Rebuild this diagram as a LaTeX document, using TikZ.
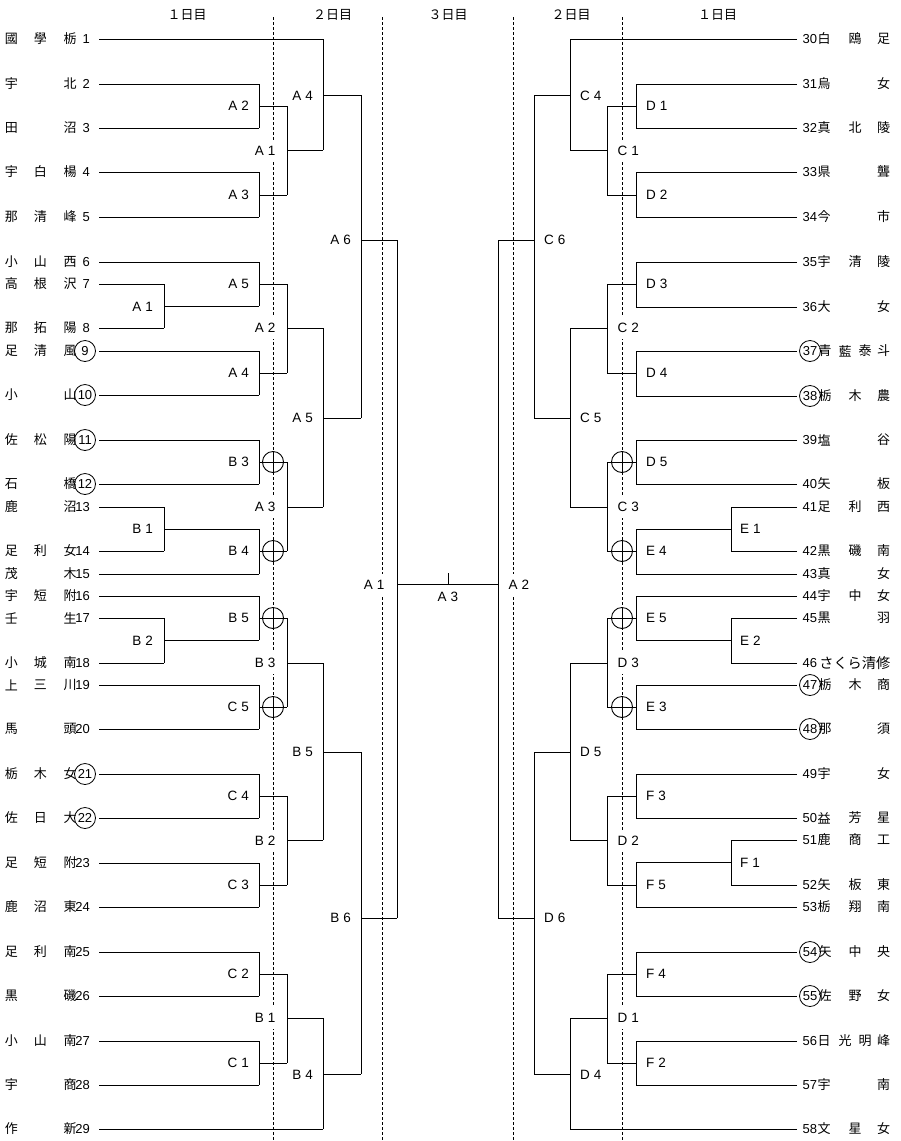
\documentclass[tikz,border=0pt]{standalone}
\usepackage{fontspec}
\setmainfont{Noto Sans CJK JP}
\newfontfamily\latf{Liberation Sans}
\tikzset{
  jp/.style={font=\fontsize{13}{13}\selectfont, inner sep=0pt},
  hdr/.style={font=\fontsize{13}{13}\selectfont, inner sep=0pt},
  num/.style={font=\latf\fontsize{13}{13}\selectfont, inner sep=0pt},
  lbl/.style={font=\latf\fontsize{13.5}{13.5}\selectfont, inner sep=0pt},
  lblw/.style={lbl, fill=white, inner xsep=1.5pt, inner ysep=6pt},
  ln/.style={line width=0.9pt},
  dsh/.style={line width=0.8pt, dash pattern=on 3pt off 2pt},
  cnum/.style={num, circle, draw, line width=0.8pt, minimum size=21pt, inner sep=0pt},
  xc/.style={circle, draw, line width=0.9pt, minimum size=21pt, inner sep=0pt},
}
% left team: id, y, c1, c2, c3, number, line end x
\newcommand\Lteam[7]{%
  \node[jp] (L#1a) at (11.5,#2) {#3};
  \node[jp] (L#1b) at (40.5,#2) {#4};
  \node[jp] (L#1c) at (70,#2) {#5};
  \node[num,anchor=east] (L#1n) at (90,#2) {#6};
  \coordinate (t#1) at (99,#2);
  \coordinate (e#1) at (#7,#2);
  \draw[ln] (t#1) -- (e#1);}
\newcommand\LteamC[7]{%
  \node[jp] (L#1a) at (11.5,#2) {#3};
  \node[jp] (L#1b) at (40.5,#2) {#4};
  \node[jp] (L#1c) at (70,#2) {#5};
  \node[cnum] (L#1n) at (85,#2) {#6};
  \coordinate (t#1) at (99,#2);
  \coordinate (e#1) at (#7,#2);
  \draw[ln] (t#1) -- (e#1);}
% right team: id, y, c1, c2, c3, number, line end x
\newcommand\Rteam[7]{%
  \node[num,anchor=west] (R#1n) at (802.5,#2) {#6};
  \node[jp] (R#1a) at (824,#2) {#3};
  \node[jp] (R#1b) at (855,#2) {#4};
  \node[jp] (R#1c) at (883.5,#2) {#5};
  \coordinate (t#1) at (797,#2);
  \coordinate (e#1) at (#7,#2);
  \draw[ln] (t#1) -- (e#1);}
\newcommand\RteamC[7]{%
  \node[cnum] (R#1n) at (810,#2) {#6};
  \node[jp] (R#1a) at (825,#2) {#3};
  \node[jp] (R#1b) at (855,#2) {#4};
  \node[jp] (R#1c) at (883.5,#2) {#5};
  \coordinate (t#1) at (797,#2);
  \coordinate (e#1) at (#7,#2);
  \draw[ln] (t#1) -- (e#1);}
% bracket: x, y1, y2, ym, xout
\newcommand\brk[5]{%
  \draw[ln] (#1,#2) -- (#1,#3);
  \draw[ln] (#1,#4) -- (#5,#4);}
% labels
\newcommand\lt[2]{#1\hspace{4pt}#2}
\newcommand\labL[4]{\node[lbl,anchor=east] at (#1,#2) {\lt{#3}{#4}};}
\newcommand\labLw[4]{\node[lblw,anchor=east] at (#1,#2) {\lt{#3}{#4}};}
\newcommand\labR[4]{\node[lbl,anchor=west] at (#1,#2) {\lt{#3}{#4}};}
\newcommand\labRw[4]{\node[lblw,anchor=west] at (#1,#2) {\lt{#3}{#4}};}
\begin{document}
\begin{tikzpicture}[x=1pt,y=-1pt]
\useasboundingbox (0,0) rectangle (900,1141);
\fill[white] (0,0) rectangle (900,1141);

% headers
\node[hdr] (h1) at (187,15) {１日目};
\node[hdr] (h2) at (332.5,15) {２日目};
\node[hdr] (h3) at (448,15) {３日目};
\node[hdr] (h4) at (571,15) {２日目};
\node[hdr] (h5) at (717.5,15) {１日目};

% dashed day separators
\draw[dsh] (273,17) -- (273,1141);
\draw[dsh] (382,17) -- (382,1141);
\draw[dsh] (513,17) -- (513,1141);
\draw[dsh] (622,17) -- (622,1141);

% ---------------- left teams
\Lteam{1}{39}{國}{學}{栃}{1}{323}
\Lteam{2}{84}{宇}{}{北}{2}{259}
\Lteam{3}{128}{田}{}{沼}{3}{259}
\Lteam{4}{172}{宇}{白}{楊}{4}{259}
\Lteam{5}{217}{那}{清}{峰}{5}{259}
\Lteam{6}{262}{小}{山}{西}{6}{259}
\Lteam{7}{284}{高}{根}{沢}{7}{164}
\Lteam{8}{328}{那}{拓}{陽}{8}{164}
\LteamC{9}{351}{足}{清}{風}{9}{259}
\LteamC{10}{395}{小}{}{山}{10}{259}
\LteamC{11}{440}{佐}{松}{陽}{11}{259}
\LteamC{12}{484}{石}{}{橋}{12}{259}
\Lteam{13}{507}{鹿}{}{沼}{13}{164}
\Lteam{14}{551}{足}{利}{女}{14}{164}
\Lteam{15}{574}{茂}{}{木}{15}{259}
\Lteam{16}{596}{宇}{短}{附}{16}{259}
\Lteam{17}{618}{壬}{}{生}{17}{164}
\Lteam{18}{663}{小}{城}{南}{18}{164}
\Lteam{19}{685}{上}{三}{川}{19}{259}
\Lteam{20}{729}{馬}{}{頭}{20}{259}
\LteamC{21}{774}{栃}{木}{女}{21}{259}
\LteamC{22}{818}{佐}{日}{大}{22}{259}
\Lteam{23}{863}{足}{短}{附}{23}{259}
\Lteam{24}{907}{鹿}{沼}{東}{24}{259}
\Lteam{25}{952}{足}{利}{南}{25}{259}
\Lteam{26}{996}{黒}{}{磯}{26}{259}
\Lteam{27}{1041}{小}{山}{南}{27}{259}
\Lteam{28}{1085}{宇}{}{商}{28}{259}
\Lteam{29}{1129}{作}{}{新}{29}{323}

% ---------------- right teams
\Rteam{30}{39}{白}{鴎}{足}{30}{570}
\Rteam{31}{84}{烏}{}{女}{31}{636}
\Rteam{32}{128}{真}{北}{陵}{32}{636}
\Rteam{33}{172}{県}{}{聾}{33}{636}
\Rteam{34}{217}{今}{}{市}{34}{636}
\Rteam{35}{262}{宇}{清}{陵}{35}{636}
\Rteam{36}{307}{大}{}{女}{36}{636}
\node[cnum] (R37n) at (810,351) {37};
\node[jp] (R37a) at (825,351) {青};
\node[jp] (R37b) at (845,351) {藍};
\node[jp] (R37c) at (865,351) {泰};
\node[jp] (R37d) at (883.5,351) {斗};
\coordinate (t37) at (797,351); \coordinate (e37) at (636,351);
\draw[ln] (t37) -- (e37);
\RteamC{38}{396}{栃}{木}{農}{38}{636}
\Rteam{39}{440}{塩}{}{谷}{39}{636}
\Rteam{40}{484}{矢}{}{板}{40}{636}
\Rteam{41}{507}{足}{利}{西}{41}{731}
\Rteam{42}{551}{黒}{磯}{南}{42}{731}
\Rteam{43}{574}{真}{}{女}{43}{636}
\Rteam{44}{596}{宇}{中}{女}{44}{636}
\Rteam{45}{618}{黒}{}{羽}{45}{731}
\node[num,anchor=west] (R46n) at (802.5,663) {46};
\node[jp,anchor=east,font=\fontsize{14.2}{14.2}\selectfont] (R46a) at (890.5,663) {さくら清修};
\coordinate (t46) at (797,663); \coordinate (e46) at (731,663);
\draw[ln] (t46) -- (e46);
\RteamC{47}{685}{栃}{木}{商}{47}{636}
\RteamC{48}{729}{那}{}{須}{48}{636}
\Rteam{49}{774}{宇}{}{女}{49}{636}
\Rteam{50}{818}{益}{芳}{星}{50}{636}
\Rteam{51}{840}{鹿}{商}{工}{51}{731}
\Rteam{52}{885}{矢}{板}{東}{52}{731}
\Rteam{53}{907}{栃}{翔}{南}{53}{636}
\RteamC{54}{952}{矢}{中}{央}{54}{636}
\RteamC{55}{996}{佐}{野}{女}{55}{636}
\node[num,anchor=west] (R56n) at (802.5,1041) {56};
\node[jp] (R56a) at (824,1041) {日};
\node[jp] (R56b) at (845,1041) {光};
\node[jp] (R56c) at (865,1041) {明};
\node[jp] (R56d) at (883.5,1041) {峰};
\coordinate (t56) at (797,1041); \coordinate (e56) at (636,1041);
\draw[ln] (t56) -- (e56);
\Rteam{57}{1085}{宇}{}{南}{57}{636}
\Rteam{58}{1129}{文}{星}{女}{58}{570}

% ---------------- left brackets
\brk{164}{284}{328}{306}{259}
\brk{164}{507}{551}{529}{259}
\brk{164}{618}{663}{640}{259}
\brk{259}{84}{128}{106}{287}
\brk{259}{172}{217}{195}{287}
\brk{259}{262}{306}{284}{287}
\brk{259}{351}{395}{373}{287}
\brk{259}{440}{484}{462}{287}
\brk{259}{529}{574}{551}{287}
\brk{259}{596}{640}{618}{287}
\brk{259}{685}{729}{707}{287}
\brk{259}{774}{818}{796}{287}
\brk{259}{863}{907}{885}{287}
\brk{259}{952}{996}{974}{287}
\brk{259}{1041}{1085}{1063}{287}
\brk{287}{106}{195}{150}{323}
\brk{287}{284}{373}{328}{323}
\brk{287}{462}{551}{507}{323}
\brk{287}{618}{707}{663}{323}
\brk{287}{796}{885}{840}{323}
\brk{287}{974}{1063}{1018}{323}
\brk{323}{39}{150}{95}{361}
\brk{323}{328}{507}{418}{361}
\brk{323}{663}{840}{752}{361}
\brk{323}{1018}{1129}{1074}{361}
\brk{361}{95}{418}{240}{397}
\brk{361}{752}{1074}{918}{397}
\brk{397}{240}{918}{584}{498}
\coordinate (tk) at (448,584);
\draw[ln] (tk) -- ++(0,-11);

% ---------------- right brackets
\brk{731}{507}{551}{529}{636}
\brk{731}{618}{663}{640}{636}
\brk{731}{840}{885}{862}{636}
\brk{636}{84}{128}{106}{607}
\brk{636}{172}{217}{195}{607}
\brk{636}{262}{307}{284}{607}
\brk{636}{351}{396}{373}{607}
\brk{636}{440}{484}{462}{607}
\brk{636}{529}{574}{551}{607}
\brk{636}{596}{640}{618}{607}
\brk{636}{685}{729}{707}{607}
\brk{636}{774}{818}{796}{607}
\brk{636}{862}{907}{885}{607}
\brk{636}{952}{996}{974}{607}
\brk{636}{1041}{1085}{1063}{607}
\brk{607}{106}{195}{150}{570}
\brk{607}{284}{373}{328}{570}
\brk{607}{462}{551}{507}{570}
\brk{607}{618}{707}{663}{570}
\brk{607}{796}{885}{840}{570}
\brk{607}{974}{1063}{1018}{570}
\brk{570}{39}{150}{95}{534}
\brk{570}{328}{507}{418}{534}
\brk{570}{663}{840}{752}{534}
\brk{570}{1018}{1129}{1074}{534}
\brk{534}{95}{418}{240}{498}
\brk{534}{752}{1074}{918}{498}
\draw[ln] (498,240) -- (498,918);

% ---------------- crossed circles
\foreach \n/\x/\y in {c1/273/462, c2/273/551, c3/273/618, c4/273/707,
                      c5/622/462, c6/622/551, c7/622/618, c8/622/707}{
  \node[xc] (\n) at (\x,\y) {};
  \draw[ln] (\n.north) -- (\n.south);
}

% ---------------- labels left
\labL{153}{307}{A}{1}
\labL{153}{529}{B}{1}
\labL{153}{641}{B}{2}
\labL{249}{106}{A}{2}
\labL{249}{195}{A}{3}
\labL{249}{284}{A}{5}
\labL{249}{373}{A}{4}
\labL{249}{462}{B}{3}
\labL{249}{551}{B}{4}
\labL{249}{618}{B}{5}
\labL{249}{707}{C}{5}
\labL{249}{796}{C}{4}
\labL{249}{885}{C}{3}
\labL{249}{974}{C}{2}
\labL{249}{1063}{C}{1}
\labLw{277}{151}{A}{1}
\labLw{277}{328}{A}{2}
\labLw{277}{507}{A}{3}
\labLw{277}{663}{B}{3}
\labLw{277}{841}{B}{2}
\labLw{277}{1018}{B}{1}
\labL{313}{96}{A}{4}
\labL{313}{418}{A}{5}
\labL{313}{752}{B}{5}
\labL{313}{1075}{B}{4}
\labL{351}{240}{A}{6}
\labL{351}{918}{B}{6}
\labLw{386}{585}{A}{1}
\node[lbl] (a3) at (448,597) {\lt{A}{3}};

% ---------------- labels right
\labRw{507}{585}{A}{2}
\labR{544}{240}{C}{6}
\labR{544}{918}{D}{6}
\labR{580}{96}{C}{4}
\labR{580}{418}{C}{5}
\labR{580}{752}{D}{5}
\labR{580}{1075}{D}{4}
\labRw{616}{151}{C}{1}
\labRw{616}{328}{C}{2}
\labRw{616}{507}{C}{3}
\labRw{616}{663}{D}{3}
\labRw{616}{841}{D}{2}
\labRw{616}{1018}{D}{1}
\labR{646}{106}{D}{1}
\labR{646}{195}{D}{2}
\labR{646}{284}{D}{3}
\labR{646}{373}{D}{4}
\labR{646}{462}{D}{5}
\labR{646}{551}{E}{4}
\labR{646}{618}{E}{5}
\labR{646}{707}{E}{3}
\labR{646}{796}{F}{3}
\labR{646}{885}{F}{5}
\labR{646}{974}{F}{4}
\labR{646}{1063}{F}{2}
\labR{740}{529}{E}{1}
\labR{740}{641}{E}{2}
\labR{740}{863}{F}{1}
\end{tikzpicture}
\end{document}
